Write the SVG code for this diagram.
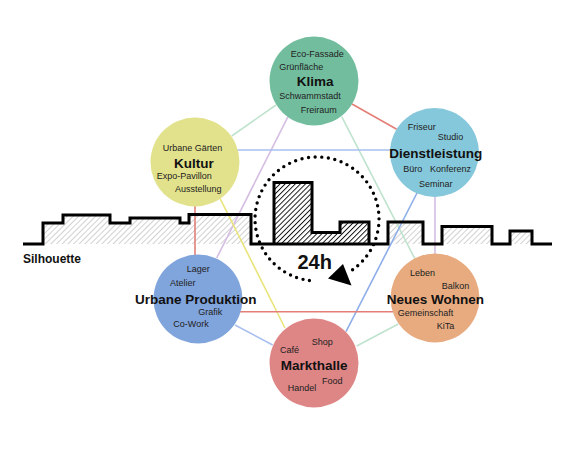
<svg xmlns="http://www.w3.org/2000/svg" width="574" height="450" viewBox="0 0 574 450">
<style>
.s{font-family:"Liberation Sans",Arial,Helvetica,sans-serif;font-size:9px;fill:#222}
.t{font-family:"Liberation Sans",Arial,Helvetica,sans-serif;font-size:13.5px;font-weight:bold;fill:#111}
.c{stroke-width:1.6;fill:none}
.red{stroke:#e37f77}.grn{stroke:#bfe3cd}.lav{stroke:#d6bde3}.blu{stroke:#a9bff0}.blu2{stroke:#8eaeea}.yel{stroke:#e9e57c}
</style>
<defs>
<pattern id="lh" width="4" height="4" patternUnits="userSpaceOnUse" patternTransform="rotate(45)">
<rect width="4" height="4" fill="#fff"/><line x1="0" y1="0" x2="0" y2="4" stroke="#b8b8b8" stroke-width="1.3"/>
</pattern>
<pattern id="dh" width="3.6" height="3.6" patternUnits="userSpaceOnUse" patternTransform="rotate(45)">
<rect width="3.6" height="3.6" fill="#fff"/><line x1="0" y1="0" x2="0" y2="3.6" stroke="#111" stroke-width="1.9"/>
</pattern>
</defs>
<rect width="574" height="450" fill="#fff"/>
<g id="silhouette-fill">
<path d="M23,244 H43 V223 H63 V215 H110 V223 H130 V218 H180 V223 H189 V214.5 H251 V244 Z M369,244 H388 V222 H423 V244 H442 V226.5 H492 V244 H510 V231 H532 V244 Z" fill="url(#lh)"/>
</g>
<g id="connectors">
<line class="c grn" x1="231.7" y1="136" x2="276" y2="105"/>
<line class="c red" x1="352" y1="104" x2="396.7" y2="129.3"/>
<line class="c lav" x1="288" y1="116.7" x2="216.7" y2="258"/>
<line class="c grn" x1="341.7" y1="116.7" x2="415" y2="259"/>
<line class="c blu" x1="236.7" y1="150" x2="390" y2="150"/>
<line class="c red" x1="195" y1="205" x2="195" y2="255"/>
<line class="c yel" x1="220" y1="198.3" x2="285" y2="328"/>
<line class="c blu2" x1="417" y1="193" x2="346" y2="331.7"/>
<line class="c lav" x1="435" y1="196.7" x2="435" y2="254"/>
<line class="c red" x1="240" y1="311.7" x2="393" y2="311.7"/>
<line class="c blu" x1="235" y1="325" x2="272.7" y2="345"/>
<line class="c grn" x1="356.7" y1="346" x2="398.3" y2="324"/>
</g>
<g id="silhouette">
<path d="M274,244 V182.5 H312 V232.5 H340 V222 H369 V244 Z" fill="url(#dh)"/>
<path d="M23,244 H43 V223 H63 V215 H110 V223 H130 V218 H180 V223 H189 V214.5 H251 V244 H274 V182.5 H312 V232.5 H340 V222 H369 V244 H388 V222 H423 V244 H442 V226.5 H492 V244 H510 V231 H532 V244 H552 M251,244 H388" fill="none" stroke="#000" stroke-width="3"/>
<text x="23" y="263" font-family="'Liberation Sans',Arial,sans-serif" font-size="12" font-weight="bold" fill="#111">Silhouette</text>
</g>
<g id="cycle">
<path d="M309.4,280.5 A62,62 0 1 1 351.5,270.5" fill="none" stroke="#000" stroke-width="3.4" stroke-linecap="round" stroke-dasharray="0 6.6"/>
<polygon points="328,278.5 343,264 351.5,285.5" fill="#000"/>
<text x="297.5" y="268.5" font-family="'Liberation Sans',Arial,sans-serif" font-size="20" font-weight="bold" fill="#111">24h</text>
</g>
<g id="klima">
<circle cx="314" cy="81" r="44.5" fill="#72bd9e"/>
<text class="s" x="290.7" y="57.3">Eco-Fassade</text>
<text class="s" x="279.3" y="70">Grünfläche</text>
<text class="t" x="296.7" y="85.5">Klima</text>
<text class="s" x="279.3" y="98.6">Schwammstadt</text>
<text class="s" x="300.7" y="112.6">Freiraum</text>
</g>
<g id="kultur">
<circle cx="195" cy="162" r="44.5" fill="#e2e28c"/>
<text class="s" x="162.7" y="150.6">Urbane Gärten</text>
<text class="t" x="174" y="167.7">Kultur</text>
<text class="s" x="156.7" y="179.3">Expo-Pavillon</text>
<text class="s" x="175" y="192">Ausstellung</text>
</g>
<g id="dienstleistung">
<circle cx="434.5" cy="152.5" r="44.5" fill="#86c8db"/>
<text class="s" x="407.7" y="130">Friseur</text>
<text class="s" x="437.7" y="140">Studio</text>
<text class="t" x="389.3" y="157.7">Dienstleistung</text>
<text class="s" x="403.3" y="171.6">Büro</text>
<text class="s" x="430" y="171.6">Konferenz</text>
<text class="s" x="419" y="186.6">Seminar</text>
</g>
<g id="urbane-produktion">
<circle cx="198" cy="299" r="44.5" fill="#80a4dc"/>
<text class="s" x="186.7" y="272">Lager</text>
<text class="s" x="170" y="285.6">Atelier</text>
<text class="t" x="135" y="304.3">Urbane Produktion</text>
<text class="s" x="198.3" y="315.3">Grafik</text>
<text class="s" x="173.3" y="327.3">Co-Work</text>
</g>
<g id="neues-wohnen">
<circle cx="435" cy="298" r="44.5" fill="#e8ab80"/>
<text class="s" x="410" y="276">Leben</text>
<text class="s" x="441.7" y="289.3">Balkon</text>
<text class="t" x="386.7" y="304.3">Neues Wohnen</text>
<text class="s" x="397.7" y="315.6">Gemeinschaft</text>
<text class="s" x="436.7" y="329.3">KiTa</text>
</g>
<g id="markthalle">
<circle cx="314" cy="363" r="44.5" fill="#de8585"/>
<text class="s" x="311.7" y="345.3">Shop</text>
<text class="s" x="280" y="352.6">Café</text>
<text class="t" x="280.7" y="370">Markthalle</text>
<text class="s" x="322" y="384">Food</text>
<text class="s" x="287.7" y="390.6">Handel</text>
</g>
</svg>
